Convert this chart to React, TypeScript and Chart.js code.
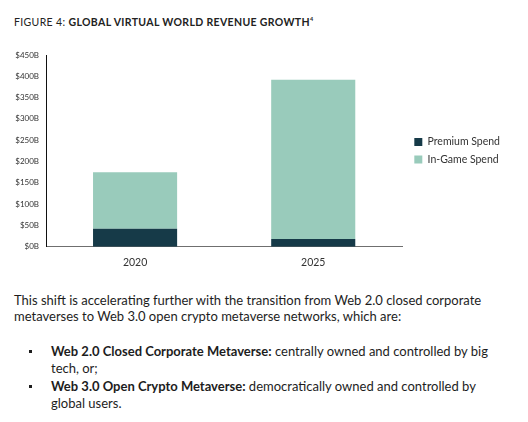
import React, { useEffect, useRef } from "react";
import { Chart, registerables } from "chart.js";

Chart.register(...registerables);

const categories = ["2020", "2025"];
const premiumSpend = [42, 18];
const inGameSpend = [133, 374];
const seriesLabels = ["Premium Spend", "In-Game Spend"];
const yTickMax = 450;
const yTickStep = 50;

const DARK = "#163a48";
const LIGHT = "#99cbbb";
const FONT = "Lato, 'Open Sans', sans-serif";

export default function App() {
  const canvasRef = useRef<HTMLCanvasElement | null>(null);

  useEffect(() => {
    if (!canvasRef.current) return;
    const chart = new Chart(canvasRef.current, {
      type: "bar",
      data: {
        labels: categories,
        datasets: [
          {
            label: seriesLabels[0],
            data: premiumSpend,
            backgroundColor: DARK,
            borderWidth: 0,
            categoryPercentage: 1,
            barPercentage: 0.472,
          },
          {
            label: seriesLabels[1],
            data: inGameSpend,
            backgroundColor: LIGHT,
            borderWidth: 0,
            categoryPercentage: 1,
            barPercentage: 0.472,
          },
        ],
      },
      options: {
        animation: false,
        responsive: true,
        maintainAspectRatio: false,
        layout: { padding: { top: 15, right: 18, left: 0, bottom: 0 } },
        plugins: {
          tooltip: { enabled: false },
          title: { display: false },
          legend: {
            display: true,
            position: "right",
            fullSize: false,
            align: "center",
            labels: {
              boxWidth: 8,
              boxHeight: 8,
              padding: 7,
              color: "#333",
              font: { family: FONT, size: 10.5 },
            },
          },
        },
        scales: {
          x: {
            stacked: true,
            grid: { display: false, drawTicks: false },
            border: { display: true, color: "#6f6f6f", width: 1 },
            ticks: {
              color: "#333",
              padding: 10,
              font: { family: FONT, size: 10.5 },
            },
            afterFit: (s: any) => {
              s.height = 33.3;
            },
          },
          y: {
            stacked: true,
            min: 0,
            max: yTickMax,
            grid: { display: false, drawTicks: false },
            border: { display: true, color: "#111", width: 1 },
            ticks: {
              stepSize: yTickStep,
              color: "#333",
              padding: 7,
              font: { family: FONT, size: 8 },
              callback: (v: any) => "$" + v + "B",
            },
            afterFit: (s: any) => {
              s.width = 46;
            },
          },
          spacer: {
            type: "linear",
            position: "right",
            display: false,
            afterFit: (s: any) => {
              s.width = 5;
            },
          },
        },
      },
    } as any);
    return () => chart.destroy();
  }, []);

  const textStyle: React.CSSProperties = {
    fontFamily: FONT,
    color: "#1d1d1d",
    fontSize: 13,
  };

  const bullet: React.CSSProperties = {
    position: "absolute",
    left: 29,
    top: 7,
    width: 3,
    height: 3,
    background: "#1d1d1d",
  };

  return (
    <div
      style={{
        position: "absolute",
        left: 0,
        top: 0,
        width: 528,
        height: 422,
        background: "#fff",
        overflow: "hidden",
        fontFamily: FONT,
      }}
    >
      <div
        style={{
          position: "absolute",
          left: 14,
          top: 13,
          fontSize: 10.5,
          letterSpacing: 0.35,
          lineHeight: "12px",
          color: "#222",
          whiteSpace: "nowrap",
        }}
      >
        FIGURE 4: <b>GLOBAL VIRTUAL WORLD REVENUE GROWTH</b>
        <sup style={{ fontSize: 5.5, fontWeight: 700 }}>4</sup>
      </div>
      <div style={{ position: "absolute", left: 0, top: 40, width: 528, height: 240 }}>
        <canvas ref={canvasRef} />
      </div>
      <div
        style={{
          ...textStyle,
          position: "absolute",
          left: 14,
          top: 292,
          lineHeight: "16px",
          whiteSpace: "nowrap",
        }}
      >
        This shift is accelerating further with the transition from Web 2.0 closed corporate
        <br />
        metaverses to Web 3.0 open crypto metaverse networks, which are:
      </div>
      <div
        style={{
          ...textStyle,
          position: "absolute",
          left: 0,
          top: 343,
          lineHeight: "17.4px",
          whiteSpace: "nowrap",
        }}
      >
        <div style={{ position: "relative", paddingLeft: 51 }}>
          <span style={bullet} />
          <b>Web 2.0 Closed Corporate Metaverse:</b> centrally owned and controlled by big
          <br />
          tech, or;
        </div>
        <div style={{ position: "relative", paddingLeft: 51 }}>
          <span style={bullet} />
          <b>Web 3.0 Open Crypto Metaverse:</b> democratically owned and controlled by
          <br />
          global users.
        </div>
      </div>
    </div>
  );
}
